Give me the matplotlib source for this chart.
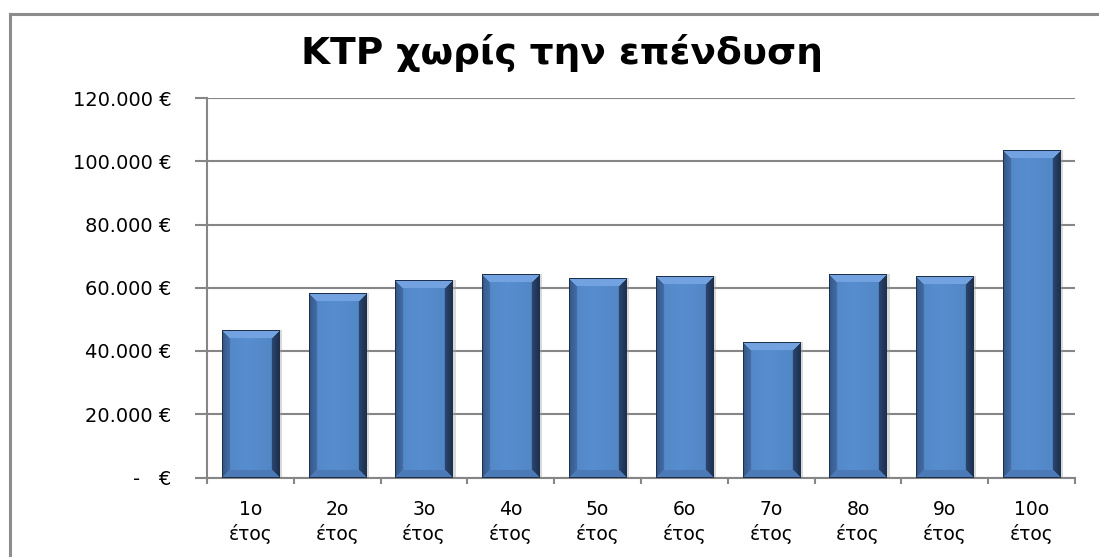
import numpy as np
import matplotlib
matplotlib.use("Agg")
import matplotlib.pyplot as plt
from matplotlib.lines import Line2D
from matplotlib.ticker import FixedLocator, FuncFormatter

title = "ΚΤΡ χωρίς την επένδυση"
categories = ["1ο\nέτος", "2ο\nέτος", "3ο\nέτος", "4ο\nέτος", "5ο\nέτος",
              "6ο\nέτος", "7ο\nέτος", "8ο\nέτος", "9ο\nέτος", "10ο\nέτος"]
values = [46500, 58200, 62600, 64200, 63200, 63700, 42800, 64400, 63700, 103500]
yticks = [0, 20000, 40000, 60000, 80000, 100000, 120000]

plt.rcParams['font.family'] = ['DejaVu Sans']

W, H = 1099, 557
fig = plt.figure(figsize=(W / 100, H / 100), dpi=100)
ax = fig.add_axes([207 / W, 1 - 477.5 / H, (1075 - 207) / W, (477.5 - 98) / H])

x = np.arange(len(values))
bars = ax.bar(x, values, width=0.66, color='#5389C8', zorder=3)

ax.set_xlim(-0.5, len(values) - 0.5)
ax.set_ylim(0, 120000)

# bevel rendering based on each bar patch's geometry
face = np.array([0.33, 0.54, 0.79])
left_b = np.array([0.24, 0.39, 0.60])
right_b = np.array([0.14, 0.23, 0.37])
top_b = np.array([0.45, 0.64, 0.88])
bot_b = np.array([0.30, 0.48, 0.72])
edge = np.array([0.12, 0.19, 0.30])
for p in bars.patches:
    x0, y0 = p.get_x(), p.get_y()
    w, h = p.get_width(), p.get_height()
    pw = int(round(w * 86.8))
    ph = int(round(h / 1000 * 3.1625))
    img = np.zeros((ph, pw, 3))
    bw = 8.0
    for r in range(ph):
        for c in range(pw):
            dl = c + 0.5
            dr = pw - c - 0.5
            dt = r + 0.5
            db = ph - r - 0.5
            m = min(dl, dr, dt, db)
            if m < 1.2:
                col = edge
            elif m < bw:
                f = (m - 1.2) / (bw - 1.2)
                if m == dt:
                    col = top_b
                elif m == db:
                    col = bot_b
                elif m == dl:
                    col = left_b * (0.9 + 0.2 * f)
                else:
                    col = right_b * (0.85 + 0.35 * f)
            else:
                t = (c - bw) / max(pw - 2 * bw, 1)
                col = face * (1.03 - 0.08 * abs(t - 0.4))
            img[r, c] = col
    ax.imshow(np.clip(img, 0, 1), extent=(x0, x0 + w, y0, y0 + h), aspect='auto',
              interpolation='bilinear', zorder=4)
    ax.bar(x0 + w + 0.005, h, width=0.03, bottom=y0, align='edge',
           color='#a0a0a0', alpha=0.4, zorder=2, linewidth=0)
ax.set_xlim(-0.5, len(values) - 0.5)
ax.set_ylim(0, 120000)
ax.set_aspect('auto')

grid_c = '#868686'
ax.yaxis.set_major_locator(FixedLocator(yticks))
ax.yaxis.set_major_formatter(FuncFormatter(
    lambda v, pos: "-   €" if v == 0 else f"{v:,.0f}".replace(",", ".") + " €"))
ax.grid(axis='y', color=grid_c, linewidth=1.5, zorder=0)
ax.set_axisbelow(True)

ax.set_xticks(x)
ax.set_xticklabels(categories, fontsize=13.5, linespacing=1.3)
ax.tick_params(axis='x', length=0, pad=16)
ax.set_xticks(np.arange(-0.5, len(values), 1.0), minor=True)
ax.tick_params(axis='x', which='minor', length=4, width=1.5, color=grid_c, direction='out')
ax.tick_params(axis='y', length=8.6, width=1.5, color=grid_c, labelsize=14, pad=17,
               direction='out')

for s in ['top', 'right']:
    ax.spines[s].set_visible(False)
for s in ['left', 'bottom']:
    ax.spines[s].set_color(grid_c)
    ax.spines[s].set_linewidth(1.5)

fig.text(562 / W, 1 - 64 / H, title, ha='center', va='baseline',
         fontsize=27, fontweight='bold')

fc = '#8c8c8c'
fig.add_artist(Line2D([10 / W, 10 / W], [0, 1 - 14 / H], color=fc, linewidth=2.2,
                      transform=fig.transFigure))
fig.add_artist(Line2D([10 / W, 1], [1 - 14 / H, 1 - 14 / H], color=fc, linewidth=2.2,
                      transform=fig.transFigure))

fig.savefig("out.png", dpi=100, facecolor='white')
